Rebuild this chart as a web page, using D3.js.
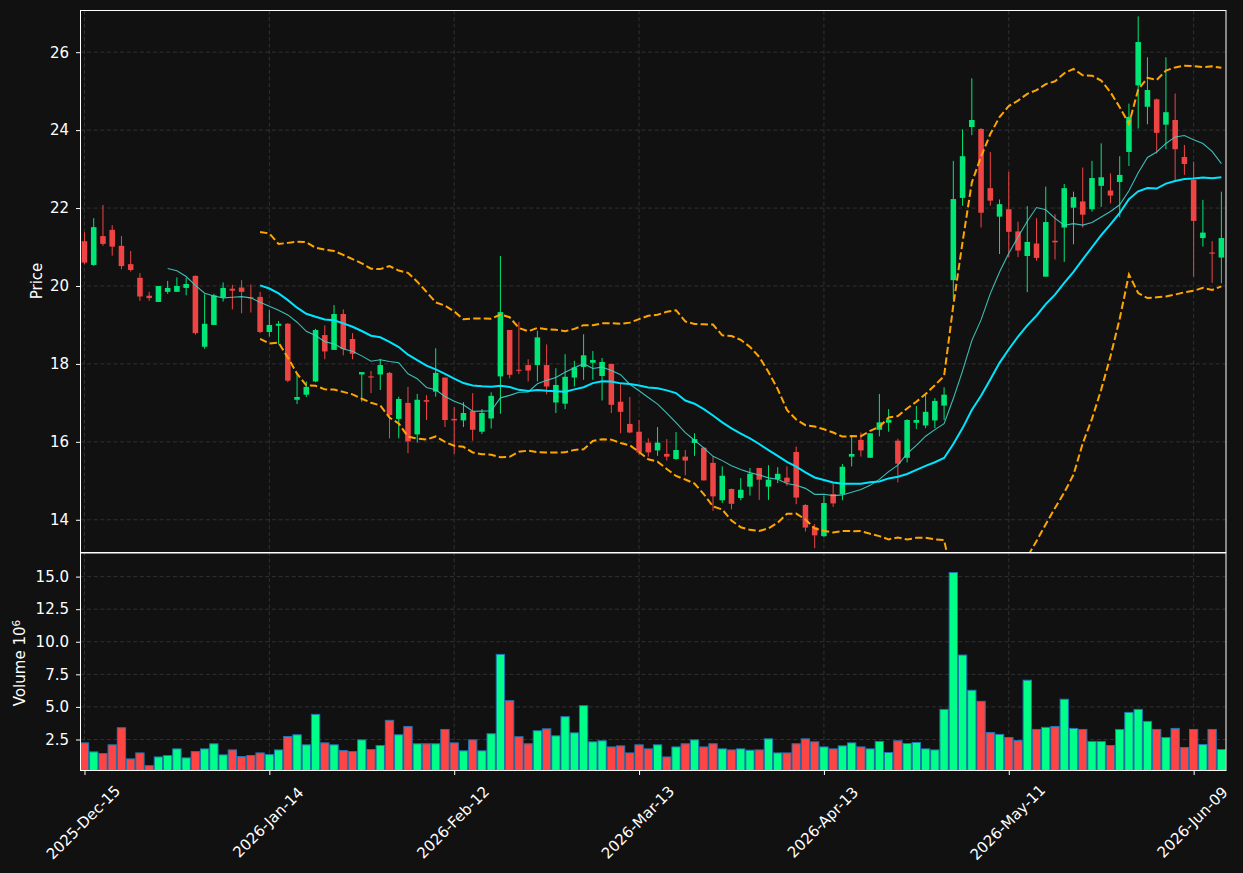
<!DOCTYPE html>
<html>
<head>
<meta charset="utf-8">
<script src="https://cdn.jsdelivr.net/npm/d3@7"></script>
<style>
body { margin: 0; background: #111111; }
svg { display: block; font-family: "DejaVu Sans", sans-serif; }
.grid line { stroke: #3a3a3a; stroke-width: 0.8; stroke-dasharray: 4,2.6; }
.axis text { fill: #ffffff; font-size: 15px; font-family: "DejaVu Sans", sans-serif; }
.axis line { stroke: #ffffff; stroke-width: 1; }
.axis path { display: none; }
</style>
</head>
<body>
<svg id="chart" width="1243" height="873"></svg>
<script>
// daily OHLC + volume (millions)
var opens  = [21.15,20.54,21.28,21.44,21.03,20.56,20.21,19.75,19.59,19.85,19.85,19.95,20.26,18.44,19.00,19.71,19.93,19.96,19.71,19.72,
              18.82,18.98,19.03,17.08,17.21,17.55,18.74,18.36,19.28,18.64,17.73,17.68,17.73,17.77,16.59,17.00,16.19,17.07,17.29,17.65,
              16.59,16.55,16.79,16.26,16.60,17.68,18.87,17.85,17.97,17.97,17.97,17.01,16.98,17.65,17.92,18.03,17.69,18.00,17.03,16.46,
              16.26,15.98,15.78,15.69,15.56,15.62,15.97,15.85,15.46,14.50,14.79,14.56,14.85,15.33,14.85,15.04,15.08,15.74,14.38,13.81,
              13.58,14.66,14.66,15.62,16.05,15.59,16.31,16.49,16.03,15.59,16.49,16.42,16.55,16.93,20.15,22.26,24.08,24.03,22.51,21.78,
              21.97,21.40,20.77,21.09,20.24,21.16,21.50,22.01,22.17,21.97,22.57,22.45,22.67,23.44,25.15,24.60,24.79,24.14,24.26,23.31,
              22.72,21.23,20.86,20.73];
var highs  = [21.38,21.74,22.08,21.56,21.28,20.90,20.33,19.85,20.00,20.13,20.22,20.21,20.27,19.79,19.80,20.09,20.03,20.15,20.04,19.85,
              19.38,19.10,19.05,17.74,17.55,18.90,18.99,19.51,19.40,18.79,17.79,17.82,18.13,17.79,17.16,17.41,17.23,17.20,18.40,17.65,
              16.89,17.02,17.25,16.84,17.27,20.77,18.87,19.08,18.12,18.85,18.50,17.89,18.25,18.08,18.76,18.33,18.15,18.00,17.48,17.15,
              16.56,16.09,16.38,16.07,16.25,15.79,16.22,15.87,15.62,15.37,14.80,15.07,15.33,15.33,15.40,15.35,15.37,15.88,14.40,13.89,
              14.62,14.94,15.43,16.14,16.24,16.22,17.23,16.84,16.08,16.58,16.92,17.20,17.12,17.40,23.21,24.02,25.33,24.05,23.44,22.22,
              22.93,21.65,22.05,21.74,22.55,21.84,22.62,22.42,23.04,23.21,23.66,22.89,23.33,24.68,26.92,25.87,24.81,25.87,24.94,23.62,
              23.19,22.21,21.15,22.42];
var lows   = [20.56,20.52,21.03,20.78,20.43,20.37,19.62,19.62,19.59,19.80,19.85,19.76,18.75,18.39,19.00,19.60,19.40,19.30,19.32,18.79,
              18.70,18.50,17.53,16.97,17.15,17.53,18.12,18.36,18.22,18.12,17.03,17.25,17.33,16.09,16.09,15.71,15.98,16.56,17.16,16.38,
              15.69,16.38,16.03,16.20,16.34,16.72,17.63,17.74,17.55,17.55,17.22,16.74,16.84,17.42,17.59,17.59,17.06,16.74,16.22,16.22,
              15.67,15.62,15.64,15.52,15.54,15.14,15.64,15.01,14.23,14.43,14.27,14.50,14.62,14.51,14.51,14.94,14.87,14.40,13.70,13.27,
              13.55,14.33,14.50,15.37,15.62,15.59,16.14,16.26,14.96,15.47,16.33,16.35,16.35,16.56,19.66,22.06,23.87,21.50,22.06,20.82,
              20.74,20.74,19.84,20.65,20.24,20.68,20.62,21.07,21.50,21.91,22.03,22.12,21.76,23.08,24.04,24.15,23.40,23.51,22.72,22.85,
              20.24,21.01,20.08,20.07];
var closes = [20.60,21.51,21.08,21.01,20.51,20.41,19.73,19.69,20.00,19.95,20.00,20.05,18.79,19.03,19.76,19.95,19.88,19.85,19.69,18.82,
              19.00,19.03,17.57,17.15,17.41,18.87,18.32,19.28,18.38,18.26,17.79,17.65,17.97,16.69,17.10,16.01,17.08,17.03,17.77,16.56,
              16.55,16.74,16.31,16.74,17.18,19.33,17.72,17.83,17.83,18.68,17.42,17.46,17.67,17.91,18.22,18.10,18.05,16.95,16.77,16.24,
              15.73,15.73,15.98,15.62,15.79,15.52,16.07,15.01,14.60,15.13,14.41,14.77,15.18,15.03,15.03,15.18,14.96,14.57,13.80,13.60,
              14.43,14.42,15.36,15.69,15.78,16.22,16.50,16.57,15.44,16.56,16.56,16.77,17.05,17.21,22.23,23.33,24.26,21.88,22.19,22.10,
              21.39,20.91,21.13,20.72,21.64,21.12,22.51,22.28,21.83,22.77,22.79,22.32,22.85,24.34,26.26,25.03,23.93,24.46,23.51,23.13,
              21.67,21.37,20.83,21.23];
var volumes = [2.24,1.55,1.42,2.09,3.40,1.01,1.47,0.49,1.16,1.27,1.78,1.09,1.57,1.78,2.17,1.32,1.70,1.19,1.27,1.47,
               1.34,1.70,2.73,2.86,2.09,4.43,2.24,2.09,1.65,1.57,2.47,1.73,2.04,3.97,2.86,3.50,2.17,2.17,2.17,3.27,
               2.24,1.63,2.47,1.63,2.94,9.03,5.48,2.71,2.17,3.17,3.32,2.78,4.25,3.01,5.10,2.32,2.40,1.93,2.01,1.47,
               2.09,1.78,2.09,1.16,1.93,2.17,2.47,1.93,2.17,1.78,1.70,1.78,1.68,1.70,2.55,1.47,1.47,2.17,2.55,2.32,
               1.93,1.78,2.01,2.24,1.93,1.78,2.35,1.50,2.40,2.19,2.27,1.78,1.70,4.81,15.31,8.98,6.28,5.43,3.04,2.89,
               2.65,2.42,7.05,3.27,3.43,3.50,5.59,3.35,3.27,2.35,2.35,2.04,3.27,4.58,4.81,3.89,3.27,2.65,3.35,1.88,
               3.27,2.11,3.27,1.73];

var startDate = "2025-12-15";
var holidays = ["2025-12-25","2026-01-01","2026-01-19","2026-02-16","2026-04-03","2026-05-25"];
var xTickIdx = [0, 20, 40, 60, 80, 100, 120];
var priceTicks = [14, 16, 18, 20, 22, 24, 26];
var volTicks = [2.5, 5, 7.5, 10, 12.5, 15];

var upColor = "#00e676", downColor = "#ef4444";
var volUp = "#00ff88", volDown = "#ff4444";

// trading days
var parse = d3.timeParse("%Y-%m-%d"), iso = d3.timeFormat("%Y-%m-%d");
var dates = [];
var day = parse(startDate);
while (dates.length < closes.length) {
    var wd = day.getDay();
    if (wd != 0 && wd != 6 && holidays.indexOf(iso(day)) < 0) dates.push(day);
    day = d3.timeDay.offset(day, 1);
}
var fmtDate = d3.timeFormat("%Y-%b-%d");

function rolling(arr, n, fn) {
    return arr.map(function (v, i) {
        return i < n - 1 ? null : fn(arr.slice(i - n + 1, i + 1));
    });
}
var ma10 = rolling(closes, 10, d3.mean);
var ma20 = rolling(closes, 20, d3.mean);
var sd20 = rolling(closes, 20, function (a) {
    var m = d3.mean(a);
    return Math.sqrt(d3.mean(a, function (v) { return (v - m) * (v - m); }));
});
var bbUp = ma20.map(function (m, i) { return m == null ? null : m + 2 * sd20[i]; });
var bbLo = ma20.map(function (m, i) { return m == null ? null : m - 2 * sd20[i]; });

// panel edges (px)
var pLeft = 80.5, pRight = 1226, pTop = 10.5, pMid = 552.5, pBottom = 770.5;

var svg = d3.select("#chart");
svg.append("rect").attr("width", 1243).attr("height", 873).attr("fill", "#111111");

var x = d3.scaleLinear().domain([-0.43, 123.5]).range([pLeft, pRight]);
var y = d3.scaleLinear().domain([13.16, 27.07]).range([pMid, pTop]);
var yv = d3.scaleLinear().domain([0.12, 16.85]).range([pBottom, pMid]);
var step = x(1) - x(0);

svg.append("clipPath").attr("id", "clipMain")
    .append("rect").attr("x", pLeft).attr("y", pTop).attr("width", pRight - pLeft).attr("height", pMid - pTop);
svg.append("clipPath").attr("id", "clipVol")
    .append("rect").attr("x", pLeft).attr("y", pMid).attr("width", pRight - pLeft).attr("height", pBottom - pMid);

// grid
var grid = svg.append("g").attr("class", "grid");
grid.selectAll(".gx").data(xTickIdx).enter().append("line")
    .attr("x1", function (i) { return x(i); }).attr("x2", function (i) { return x(i); })
    .attr("y1", pTop).attr("y2", pBottom);
grid.selectAll(".gy").data(priceTicks).enter().append("line")
    .attr("x1", pLeft).attr("x2", pRight)
    .attr("y1", function (v) { return y(v); }).attr("y2", function (v) { return y(v); });
grid.selectAll(".gv").data(volTicks).enter().append("line")
    .attr("x1", pLeft).attr("x2", pRight)
    .attr("y1", function (v) { return yv(v); }).attr("y2", function (v) { return yv(v); });

// volume
var bw = step * 0.9;
svg.append("g").attr("clip-path", "url(#clipVol)")
    .selectAll("rect").data(volumes).enter().append("rect")
    .attr("x", function (v, i) { return x(i) - bw / 2; })
    .attr("width", bw)
    .attr("y", function (v) { return yv(v); })
    .attr("height", function (v) { return pBottom - yv(v) + 2; })
    .attr("fill", function (v, i) { return closes[i] >= opens[i] ? volUp : volDown; })
    .attr("stroke", "#1f77b4")
    .attr("stroke-width", 1);

// candles
var cw = step * 0.6;
var candles = svg.append("g").attr("clip-path", "url(#clipMain)")
    .selectAll("g").data(closes).enter().append("g");
candles.append("line")
    .attr("x1", function (c, i) { return x(i); }).attr("x2", function (c, i) { return x(i); })
    .attr("y1", function (c, i) { return y(highs[i]); })
    .attr("y2", function (c, i) { return y(lows[i]); })
    .attr("stroke", function (c, i) { return c >= opens[i] ? upColor : downColor; })
    .attr("stroke-width", 1);
candles.append("rect")
    .attr("x", function (c, i) { return x(i) - cw / 2; })
    .attr("width", cw)
    .attr("y", function (c, i) { return y(Math.max(c, opens[i])); })
    .attr("height", function (c, i) { return Math.max(1, Math.abs(y(c) - y(opens[i]))); })
    .attr("fill", function (c, i) { return c >= opens[i] ? upColor : downColor; });

// indicator lines
var line = d3.line()
    .defined(function (v) { return v != null; })
    .x(function (v, i) { return x(i); })
    .y(function (v) { return y(v); });
var ind = svg.append("g").attr("clip-path", "url(#clipMain)").attr("fill", "none");
ind.append("path").attr("d", line(ma10)).attr("stroke", "#40d0c8").attr("stroke-width", 1.1).attr("opacity", 0.9);
ind.append("path").attr("d", line(ma20)).attr("stroke", "#00e5ff").attr("stroke-width", 2);
ind.append("path").attr("d", line(bbUp)).attr("stroke", "#ffa500").attr("stroke-width", 2).attr("stroke-dasharray", "7.4,3.2");
ind.append("path").attr("d", line(bbLo)).attr("stroke", "#ffa500").attr("stroke-width", 2).attr("stroke-dasharray", "7.4,3.2");

// spines
svg.append("rect").attr("x", pLeft).attr("y", pTop).attr("width", pRight - pLeft).attr("height", pMid - pTop)
    .attr("fill", "none").attr("stroke", "#ffffff");
svg.append("rect").attr("x", pLeft).attr("y", pMid + 0.5).attr("width", pRight - pLeft).attr("height", pBottom - pMid - 0.5)
    .attr("fill", "none").attr("stroke", "#ffffff");

// axes
svg.append("g").attr("class", "axis").attr("transform", "translate(" + pLeft + ",0)")
    .call(d3.axisLeft(y).tickValues(priceTicks).tickFormat(d3.format("d")).tickSize(4.5).tickPadding(7));
svg.append("g").attr("class", "axis").attr("transform", "translate(" + pLeft + ",0)")
    .call(d3.axisLeft(yv).tickValues(volTicks).tickFormat(d3.format(".1f")).tickSize(4.5).tickPadding(7));

var xAxis = svg.append("g").attr("class", "axis").attr("transform", "translate(0," + pBottom + ")")
    .call(d3.axisBottom(x).tickValues(xTickIdx)
        .tickFormat(function (i) { return fmtDate(dates[i]); }).tickSize(4.5));
xAxis.selectAll("text")
    .attr("y", null).attr("dy", null)
    .attr("text-anchor", "middle")
    .attr("dominant-baseline", "central")
    .attr("transform", "translate(-1.5,52) rotate(-45)");

// axis titles
svg.append("text").attr("transform", "translate(42,281) rotate(-90)")
    .attr("text-anchor", "middle").attr("fill", "#ffffff")
    .style("font-size", "15px").style("font-family", "DejaVu Sans")
    .text("Price");
var vt = svg.append("text").attr("transform", "translate(25,663) rotate(-90)")
    .attr("text-anchor", "middle").attr("fill", "#ffffff")
    .style("font-size", "15px").style("font-family", "DejaVu Sans");
vt.append("tspan").text("Volume  10");
vt.append("tspan").attr("dy", "-0.45em").style("font-size", "10.5px").text("6");
</script>
</body>
</html>
